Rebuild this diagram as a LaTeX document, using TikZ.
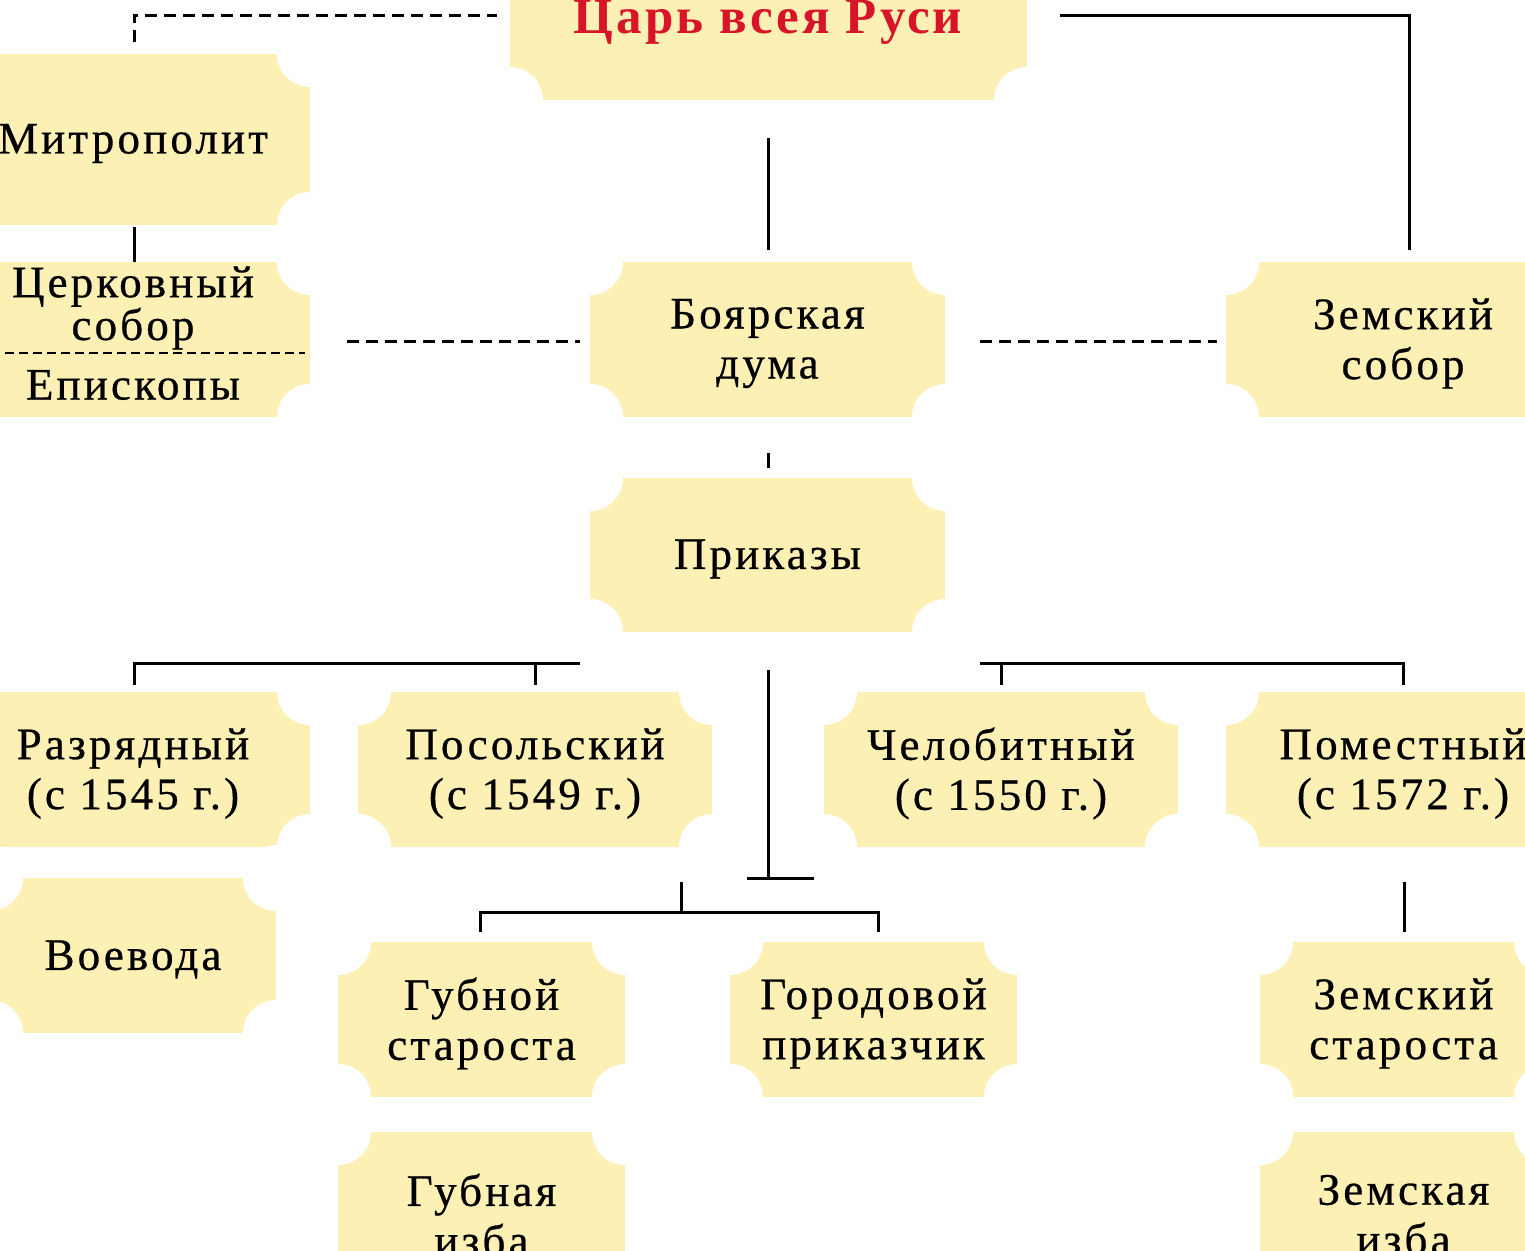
\documentclass[tikz,border=0pt]{standalone}
\usepackage{fontspec}
\setmainfont[LetterSpace=7,FakeBold=0.6]{Liberation Serif}
\newfontfamily\titlefont[LetterSpace=6]{Liberation Serif}
\definecolor{bxc}{RGB}{252,240,180}
\definecolor{tred}{RGB}{215,20,40}
\tikzset{bx/.style={fill=bxc},
 txt/.style={align=center,font=\fontsize{45}{50}\selectfont,inner sep=0pt},
 ln/.style={line width=3pt},
 dl/.style={line width=3pt,dash pattern=on 12pt off 7pt}}
\newcommand\tkt[6]{%
 \fill[bx] (#2,#3) rectangle (#4,#5);
 \fill[white] (#2,#3) circle[radius=33] (#4,#3) circle[radius=33] (#2,#5) circle[radius=33] (#4,#5) circle[radius=33];
 \node[txt] (#1) at ({(#2+#4)/2},{(#3+#5)/2+4}) {#6};}
\begin{document}
\begin{tikzpicture}[x=1pt,y=-1pt]
\useasboundingbox (0,0) rectangle (1525,1250);
\begin{scope}
\clip (0,0) rectangle (1525,1250);
\fill[bx] (510,-60) rectangle (1027,100);
\fill[white] (510,100) circle[radius=33] (1027,100) circle[radius=33];
\node[txt,font=\titlefont\fontsize{51}{50}\selectfont\bfseries,text=tred] (tsar) at (768,22) {Царь всея Руси};
\tkt{metr}{-44}{54}{310}{225}{Митрополит}
\fill[bx] (-44,262) rectangle (310,417);
\fill[white] (310,262) circle[radius=33] (310,417) circle[radius=33];
\node[txt,font=\fontsize{45}{38}\selectfont] (cerk) at (133,308) {Церковный\\собор};
\node[txt] (epis) at (133,385) {Епископы};
\draw[line width=2pt,dash pattern=on 9pt off 5pt] (5,353) -- (305,353);
\tkt{boyar}{590}{262}{945}{417}{Боярская\\дума}
\tkt{zsobor}{1226}{262}{1580}{417}{Земский\\собор}
\tkt{prik}{590}{478}{945}{632}{Приказы}
\tkt{razr}{-44}{692}{310}{847}{Разрядный\\(с 1545 г.)}
\tkt{posol}{358}{692}{712}{847}{Посольский\\(с 1549 г.)}
\tkt{chel}{824}{692}{1178}{847}{Челобитный\\(с 1550 г.)}
\tkt{pom}{1226}{692}{1580}{847}{Поместный\\(с 1572 г.)}
\tkt{voev}{-10}{878}{276}{1033}{Воевода}
\tkt{gubst}{338}{942}{625}{1097}{Губной\\староста}
\tkt{gorod}{730}{942}{1017}{1097}{Городовой\\приказчик}
\tkt{zemst}{1260}{942}{1547}{1097}{Земский\\староста}
\tkt{gubiz}{338}{1132}{625}{1290}{Губная\\изба}
\tkt{zemiz}{1260}{1132}{1547}{1290}{Земская\\изба}
\end{scope}
\coordinate (a1) at (134,42); \coordinate (a2) at (134,15); \coordinate (a3) at (497,15);
\draw[dl] (a1) -- (a2) -- (a3);
\coordinate (b1) at (1060,15); \coordinate (b2) at (1409,15); \coordinate (b3) at (1409,250);
\draw[ln] (b1) -- (b2) -- (b3);
\draw[ln] (768,138) -- (768,250);
\draw[ln] (134,227) -- (134,262);
\draw[dl] (347,341) -- (580,341);
\draw[dl] (980,341) -- (1217,341);
\draw[ln] (768,453) -- (768,468);
\draw[ln] (134,685) -- (134,663) -- (580,663);
\draw[ln] (535,663) -- (535,685);
\draw[ln] (768,670) -- (768,878);
\draw[ln] (747,878) -- (814,878);
\draw[ln] (980,663) -- (1403,663) -- (1403,685);
\draw[ln] (1001,663) -- (1001,685);
\draw[ln] (681,882) -- (681,912);
\draw[ln] (480,932) -- (480,912) -- (878,912) -- (878,932);
\draw[ln] (1404,882) -- (1404,932);
\end{tikzpicture}
\end{document}
